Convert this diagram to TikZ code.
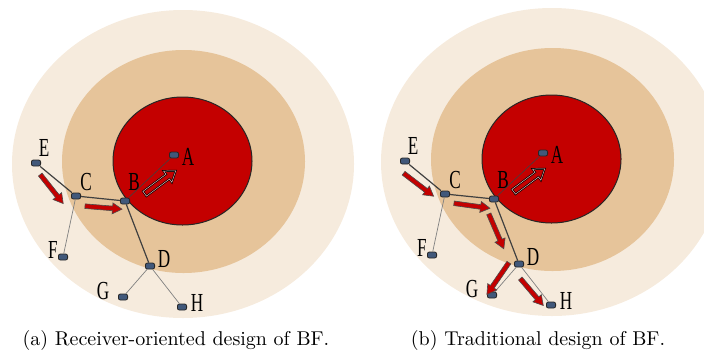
\documentclass[tikz,border=0pt]{standalone}
\usepackage{fontspec}
\newfontfamily\tagfont{Liberation Serif}
\usetikzlibrary{shapes.arrows,calc}
\definecolor{RingOuter}{HTML}{F6EBDD}
\definecolor{RingMid}{HTML}{E6C49A}
\definecolor{CoreRed}{HTML}{C40000}
\definecolor{NodeBlue}{HTML}{41587A}
\definecolor{LinkDark}{HTML}{404040}
\definecolor{LinkGray}{HTML}{808080}
% block arrow from #2 to #3
\newcommand{\flowarrow}[3][flow]{%
  \path let \p1=#2, \p2=#3, \n1={atan2(\y2-\y1,\x2-\x1)}, \n2={veclen(\x2-\x1,\y2-\y1)}
    in node[#1, rotate=\n1, minimum height=\n2] at ($#2!0.5!#3$) {};}

\begin{document}
\begin{tikzpicture}[x=0.5pt,y=-0.5pt,
    sensor/.style={draw=black!85, fill=NodeBlue, rounded corners=1pt,
      minimum width=4.6pt, minimum height=3pt, inner sep=0pt, line width=0.4pt},
    tag/.style={font=\tagfont\fontsize{13}{13}\selectfont, inner sep=0pt, xscale=0.66},
    flow/.style={single arrow, fill=CoreRed, draw=black!70, line width=0.3pt,
      inner sep=1pt, single arrow head extend=1.6pt, single arrow tip angle=60},
    hollow/.style={single arrow, fill=CoreRed, draw=black, double=white!70!CoreRed,
      double distance=0.25pt, line width=0.35pt, inner sep=1.3pt,
      single arrow head extend=2pt, single arrow tip angle=70}]
  \useasboundingbox (0,0) rectangle (704,354);
  \clip (0,0) rectangle (704,354);

  \foreach \pan/\dx/\dy in {a/0/0, b/369/-2} {
    \begin{scope}[shift={(\dx,\dy)}, name prefix=\pan-]
      \fill[RingOuter] (183,164) ellipse [x radius=171, y radius=154];
      \fill[RingMid] (183.5,161.5) ellipse [x radius=121.5, y radius=111.5];
      \filldraw[fill=CoreRed, draw=black!85, line width=0.5pt] (182.5,161) ellipse [x radius=69.5, y radius=64];

      \node[sensor] (A) at (174,155) {};
      \node[sensor] (B) at (125,201) {};
      \node[sensor] (C) at (76,196) {};
      \node[sensor] (D) at (150,266) {};
      \node[sensor] (E) at (36,163) {};
      \node[sensor] (F) at (63,257) {};
      \node[sensor] (G) at (123,297) {};
      \node[sensor] (H) at (182,307) {};

      \node[tag] (tA) at ($(A)+(14,2)$) {A};
      \node[tag] (tB) at ($(B)+(9,-19)$) {B};
      \node[tag] (tC) at ($(C)+(10,-14)$) {C};
      \node[tag] (tD) at ($(D)+(14,-7)$) {D};
      \node[tag] (tE) at ($(E)+(8,-15)$) {E};
      \node[tag] (tF) at ($(F)+(-10,-7)$) {F};
      \node[tag] (tG) at ($(G)+(-20,-6)$) {G};
      \node[tag] (tH) at ($(H)+(15,-4)$) {H};

      \draw[LinkDark, line width=0.6pt] (E) -- (C) -- (B) -- (D);
      \draw[black!75, line width=0.3pt] (B) -- (A);
      \draw[LinkGray, line width=0.35pt] (C) -- (F);
      \draw[LinkGray, line width=0.35pt] (D) -- (G);
      \draw[LinkGray, line width=0.35pt] (D) -- (H);
    \end{scope}
  }

  % receiver-oriented
  \flowarrow{(39,173)}{(62,202)}
  \flowarrow{(83,206)}{(120,209)}
  \flowarrow[hollow]{(143,195)}{(174,172)}
  % traditional
  \flowarrow{(402,172)}{(432,195)}
  \flowarrow{(452,203)}{(488,208)}
  \flowarrow{(488,212)}{(503,247)}
  \flowarrow{(510,261)}{(488,293)}
  \flowarrow{(519,277)}{(542,304)}
  \flowarrow[hollow]{(512,193)}{(543,170)}

  \node[inner sep=0pt] (capa) at (176,340) {(a) Receiver-oriented design of BF.};
  \node[inner sep=0pt] (capb) at (538,340) {(b) Traditional design of BF.};
\end{tikzpicture}
\end{document}
